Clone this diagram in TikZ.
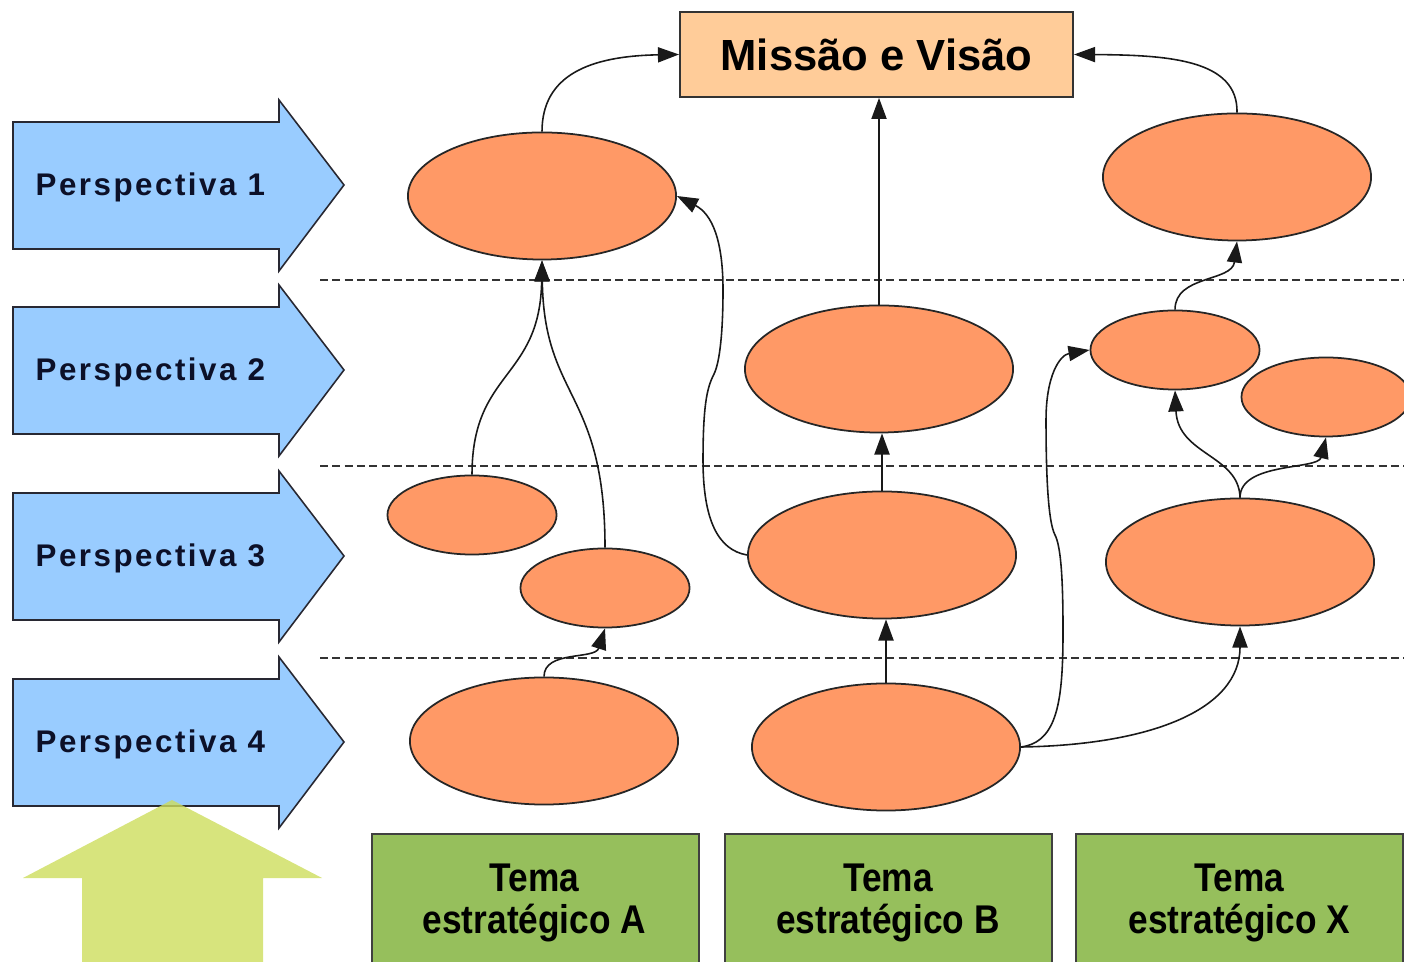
\documentclass[tikz,border=0pt]{standalone}
\usepackage{fontspec}
\setmainfont{Liberation Sans}
\newfontfamily\perspfont[LetterSpace=8]{Liberation Sans}
\newfontfamily\themefont[FakeStretch=0.88]{Liberation Sans}
\usetikzlibrary{shapes.geometric,arrows.meta}

\definecolor{perspblue}{RGB}{153,204,255}
\definecolor{goalorange}{RGB}{255,153,102}
\definecolor{missionfill}{RGB}{255,204,153}
\definecolor{themegreen}{RGB}{150,191,92}
\definecolor{basegreen}{RGB}{205,221,93}
\definecolor{edgegray}{RGB}{40,40,50}
\definecolor{labelnavy}{RGB}{12,16,40}

\tikzset{
  perspshape/.style={fill=perspblue, draw=edgegray, line width=0.45pt, line join=miter},
  persplabel/.style={anchor=base west, inner sep=0pt, font=\perspfont\bfseries\fontsize{8.9}{10}\selectfont, text=labelnavy},
  bigoval/.style={ellipse, fill=goalorange, draw=black!85, line width=0.5pt,
                  minimum width=2.68cm, minimum height=1.27cm, inner sep=0pt},
  smalloval/.style={ellipse, fill=goalorange, draw=black!85, line width=0.5pt,
                  minimum width=1.69cm, minimum height=0.79cm, inner sep=0pt},
  missionbox/.style={rectangle, fill=missionfill, draw=black!80, line width=0.5pt,
                  minimum width=3.93cm, minimum height=0.85cm, inner sep=0pt,
                  font=\bfseries\fontsize{12.4}{14}\selectfont},
  themebox/.style={rectangle, fill=themegreen, draw=black!75, line width=0.5pt,
                  minimum width=3.27cm, minimum height=1.45cm, inner sep=0pt, anchor=north west},
  themelabel/.style={align=center, inner sep=0pt,
                  font=\themefont\bfseries\fontsize{11.4}{12.2}\selectfont},
  layerline/.style={draw=black!80, line width=0.45pt, dash pattern=on 2.3pt off 1.2pt},
  conn/.style={draw=black!90, line width=0.45pt, -{Triangle[length=6pt,width=4.3pt]}},
}

\begin{document}
\begin{tikzpicture}[x=0.01cm, y=-0.01cm]
  \useasboundingbox (0,0) rectangle (1404,962);
  \clip (0,0) rectangle (1404,962);

  % layer separators
  \draw[layerline] (320,280) -- (1404,280);
  \draw[layerline] (320,466) -- (1404,466);
  \draw[layerline] (320,658) -- (1404,658);

  % perspective arrows
  \foreach \k/\dy in {1/0,2/185,3/371,4/557}{
    \draw[perspshape] (13,122+\dy) -- (279,122+\dy) -- (279,100+\dy) -- (344,185+\dy)
      -- (279,271+\dy) -- (279,249+\dy) -- (13,249+\dy) -- cycle;
    \node[persplabel] (persp\k) at (35,196+\dy) {Perspectiva \k};
  }

  % base arrow
  \fill[basegreen, fill opacity=0.8] (82,975) -- (82,878) -- (23,878) -- (172,800)
    -- (322,878) -- (263,878) -- (263,975) -- cycle;

  % mission
  \node[missionbox] (M) at (876.5,54.5) {Missão e Visão\hspace{0.12cm}};

  % strategic themes
  \node[themebox] (tA) at (371,833) {};
  \node[themebox] (tB) at (724,833) {};
  \node[themebox] (tX) at (1075,833) {};
  \node[themelabel] (lA) at (534.5,903) {Tema\\estratégico A};
  \node[themelabel] (lB) at (888,903) {Tema\\estratégico B};
  \node[themelabel] (lX) at (1239.5,903) {Tema\\estratégico X};

  % objectives, theme A
  \node[bigoval]   (A1)  at (542,196) {};
  \node[smalloval] (A3a) at (472,515) {};
  \node[smalloval] (A3b) at (605,588) {};
  \node[bigoval]   (A4)  at (544,741) {};
  % objectives, theme B
  \node[bigoval] (B2) at (879,369) {};
  \node[bigoval] (B3) at (882,555) {};
  \node[bigoval] (B4) at (886,747) {};
  % objectives, theme X
  \node[bigoval]   (X1)  at (1237,177) {};
  \node[smalloval] (X2a) at (1175,350) {};
  \node[smalloval] (X2b) at (1326,397) {};
  \node[bigoval]   (X3)  at (1240,562) {};

  % cause-and-effect links
  \draw[conn] (A1.north) .. controls (542,75) and (590,56) .. (M.west);
  \draw[conn] (X1.north) .. controls (1238,60) and (1170,55) .. (M.east);
  \draw[conn] (B2.north) -- (B2.north |- M.south);

  \draw[conn] (A3a.north) .. controls (472,370) and (540,380) .. (A1.south);
  \draw[conn] (A3b.north) .. controls (605,390) and (544,400) .. (A1.south);
  \draw[conn] (A4.north) .. controls (544,650) and (595,660) .. (A3b.south);

  \draw[conn] (B3.west) .. controls (718,550) and (703,520) .. (703,460)
    .. controls (703,400) and (708,386) .. (714,374)
    .. controls (720,362) and (723,330) .. (723,290)
    .. controls (723,240) and (712,214) .. (A1.east);
  \draw[conn] (B3.north) -- (B3.north |- B2.south);
  \draw[conn] (B4.north) -- (B4.north |- B3.south);

  \draw[conn] (B4.east) .. controls (1058,742) and (1063,700) .. (1063,630)
    .. controls (1063,570) and (1060,545) .. (1055,535)
    .. controls (1047,520) and (1046,460) .. (1046,420)
    .. controls (1046,375) and (1060,355) .. (X2a.west);
  \draw[conn] (B4.east) .. controls (1150,745) and (1240,710) .. (X3.south);

  \draw[conn] (X3.north) .. controls (1239,455) and (1178,455) .. (X2a.south);
  \draw[conn] (X3.north) .. controls (1240,462) and (1318,470) .. (X2b.south);
  \draw[conn] (X2a.north) .. controls (1175,275) and (1232,282) .. (X1.south);
\end{tikzpicture}
\end{document}
